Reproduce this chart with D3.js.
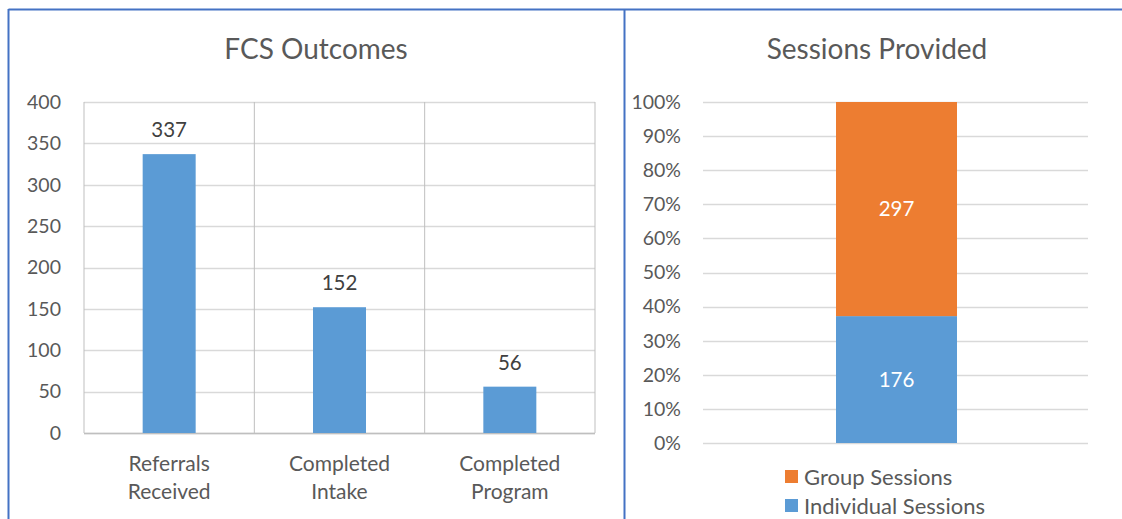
<!DOCTYPE html>
<html>
<head>
<meta charset="utf-8">
<script src="https://cdn.jsdelivr.net/npm/d3@7"></script>
<style>
  body { margin: 0; background: #fff; }
  svg { display: block; font-family: Lato, "Open Sans", sans-serif; }
</style>
</head>
<body>
<div id="chart"></div>
<script>
// FCS outcomes
const outcomeCategories = [["Referrals", "Received"], ["Completed", "Intake"], ["Completed", "Program"]];
const outcomeValues = [337, 152, 56];
const outcomeTicks = [0, 50, 100, 150, 200, 250, 300, 350, 400];

// sessions provided
const sessionSeries = ["Individual Sessions", "Group Sessions"];
const sessionValues = [176, 297];
const sessionColors = ["#5b9bd5", "#ed7d31"];
const pctTicks = [0, 0.1, 0.2, 0.3, 0.4, 0.5, 0.6, 0.7, 0.8, 0.9, 1];

const W = 1122, H = 519;
const textColor = "#595959";

const svg = d3.select("#chart").append("svg")
    .attr("width", W).attr("height", H);

// frame borders
svg.append("line").attr("x1", 8.5).attr("x2", W).attr("y1", 9.5).attr("y2", 9.5)
    .attr("stroke", "#4472c4").attr("stroke-width", 2);
svg.append("line").attr("x1", 8.5).attr("x2", 8.5).attr("y1", 9).attr("y2", H)
    .attr("stroke", "#4472c4").attr("stroke-width", 2);
svg.append("line").attr("x1", 624.5).attr("x2", 624.5).attr("y1", 9).attr("y2", H)
    .attr("stroke", "#4472c4").attr("stroke-width", 2);

// ---- left chart ----
const x1 = d3.scaleBand().domain(d3.range(outcomeValues.length)).range([84, 595]);
const y1 = d3.scaleLinear().domain([0, 400]).range([433, 102]);

const left = svg.append("g");
left.append("text").attr("x", 316).attr("y", 59).attr("text-anchor", "middle")
    .attr("font-size", 28).attr("fill", textColor).text("FCS Outcomes");

left.selectAll("line.h").data(outcomeTicks).join("line")
    .attr("x1", 84).attr("x2", 595)
    .attr("y1", d => Math.round(y1(d)) + 0.5).attr("y2", d => Math.round(y1(d)) + 0.5)
    .attr("stroke", "#d9d9d9").attr("stroke-width", 1.5);

left.selectAll("line.v").data(d3.range(outcomeValues.length + 1)).join("line")
    .attr("x1", d => d < outcomeValues.length ? x1(d) : x1.range()[1])
    .attr("x2", d => d < outcomeValues.length ? x1(d) : x1.range()[1])
    .attr("y1", 102).attr("y2", 433)
    .attr("stroke", "#bfbfbf").attr("stroke-width", 1);
left.append("line").attr("x1", 84).attr("x2", 595).attr("y1", 433.5).attr("y2", 433.5)
    .attr("stroke", "#bfbfbf").attr("stroke-width", 1.5);

left.selectAll("text.tick").data(outcomeTicks).join("text")
    .attr("x", 61).attr("y", d => y1(d)).attr("dy", "0.35em")
    .attr("text-anchor", "end").attr("font-size", 19.5).attr("fill", textColor)
    .text(d => d);

const barW = 53;
left.selectAll("rect").data(outcomeValues).join("rect")
    .attr("x", (d, i) => x1(i) + x1.bandwidth() / 2 - barW / 2)
    .attr("width", barW)
    .attr("y", d => y1(d)).attr("height", d => y1(0) - y1(d))
    .attr("fill", "#5b9bd5");

left.selectAll("text.val").data(outcomeValues).join("text")
    .attr("x", (d, i) => x1(i) + x1.bandwidth() / 2)
    .attr("y", d => y1(d) - 17)
    .attr("text-anchor", "middle").attr("font-size", 20.5).attr("fill", "#404040")
    .text(d => d);

left.selectAll("text.cat").data(outcomeCategories).join("text")
    .attr("x", (d, i) => x1(i) + x1.bandwidth() / 2)
    .attr("y", 471)
    .attr("text-anchor", "middle").attr("font-size", 21).attr("fill", textColor)
    .selectAll("tspan").data(d => d).join("tspan")
    .attr("x", function () { return this.parentNode.getAttribute("x"); })
    .attr("dy", (d, i) => i ? 28 : 0)
    .text(d => d);

// ---- right chart ----
const total = d3.sum(sessionValues);
const y2 = d3.scaleLinear().domain([0, 1]).range([443, 102]);
const x2 = d3.scaleBand().domain([0]).range([703, 1088]).paddingInner(0).paddingOuter(0);

const right = svg.append("g");
right.append("text").attr("x", 877).attr("y", 59).attr("text-anchor", "middle")
    .attr("font-size", 28).attr("fill", textColor).text("Sessions Provided");

right.selectAll("line.h").data(pctTicks).join("line")
    .attr("x1", 703).attr("x2", 1088)
    .attr("y1", d => Math.round(y2(d)) + 0.5).attr("y2", d => Math.round(y2(d)) + 0.5)
    .attr("stroke", "#d9d9d9").attr("stroke-width", 1.5);

right.selectAll("text.tick").data(pctTicks).join("text")
    .attr("x", 681).attr("y", d => y2(d)).attr("dy", "0.35em")
    .attr("text-anchor", "end").attr("font-size", 19.5).attr("fill", textColor)
    .text(d => d3.format(".0%")(d));

let acc = 0;
const stacks = sessionValues.map((v, i) => {
    const s = { v, i, y0: acc / total, y1: (acc + v) / total };
    acc += v;
    return s;
});
const barW2 = 121;
const cx = x2(0) + x2.bandwidth() / 2 + 1;
right.selectAll("rect").data(stacks).join("rect")
    .attr("x", cx - barW2 / 2).attr("width", barW2)
    .attr("y", d => y2(d.y1)).attr("height", d => y2(d.y0) - y2(d.y1))
    .attr("fill", d => sessionColors[d.i]);

right.selectAll("text.val").data(stacks).join("text")
    .attr("x", cx).attr("y", d => y2((d.y0 + d.y1) / 2)).attr("dy", "0.35em")
    .attr("text-anchor", "middle").attr("font-size", 20.5).attr("fill", "#fff")
    .text(d => d.v);

// legend (group first)
const legendItems = [1, 0];
const lg = right.selectAll("g.legend").data(legendItems).join("g")
    .attr("transform", (d, i) => `translate(785, ${477 + i * 29})`);
lg.append("rect").attr("x", 0).attr("y", -7).attr("width", 13).attr("height", 13)
    .attr("fill", d => sessionColors[d]);
lg.append("text").attr("x", 19).attr("y", 0).attr("dy", "0.35em")
    .attr("font-size", 22).attr("fill", textColor)
    .text(d => sessionSeries[d]);
</script>
</body>
</html>
